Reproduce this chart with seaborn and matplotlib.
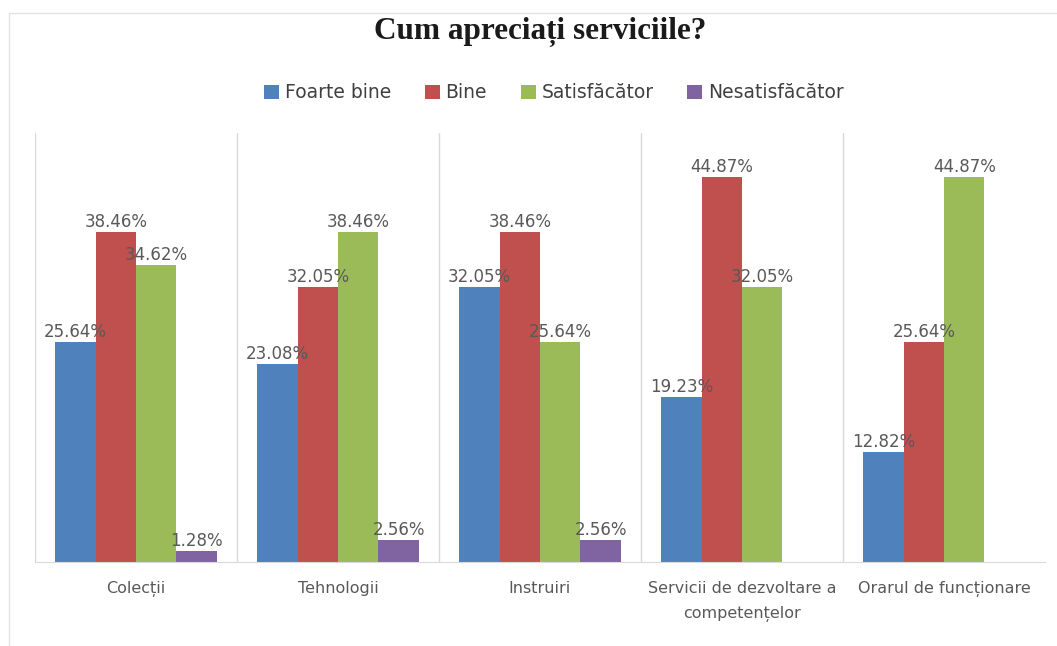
import numpy as np
import pandas as pd
import matplotlib
matplotlib.use("Agg")
import matplotlib.pyplot as plt
from matplotlib.lines import Line2D
import seaborn as sns

# date
categorii = ["Colecții", "Tehnologii", "Instruiri",
             "Servicii de dezvoltare a\ncompetențelor", "Orarul de funcționare"]
nivele = ["Foarte bine", "Bine", "Satisfăcător", "Nesatisfăcător"]
foarte_bine = [25.64, 23.08, 32.05, 19.23, 12.82]
bine = [38.46, 32.05, 38.46, 44.87, 25.64]
satisfacator = [34.62, 38.46, 25.64, 32.05, 44.87]
nesatisfacator = [1.28, 2.56, 2.56, np.nan, np.nan]
culori = ["#4F81BD", "#C0504D", "#9BBB59", "#8064A2"]

rows = []
for nivel, vals in zip(nivele, [foarte_bine, bine, satisfacator, nesatisfacator]):
    for cat, v in zip(categorii, vals):
        rows.append({"Categorie": cat, "Nivel": nivel, "Procent": v})
df = pd.DataFrame(rows)

sns.set_style("white")
plt.rcParams["font.family"] = ["DejaVu Sans"]

fig = plt.figure(figsize=(10.57, 6.46), dpi=100)
ax = fig.add_axes([35 / 1057, 84 / 646, 1010 / 1057, 429 / 646])

sns.barplot(data=df, x="Categorie", y="Procent", hue="Nivel",
            order=categorii, hue_order=nivele, palette=culori,
            width=0.8, saturation=1, errorbar=None, linewidth=0, ax=ax)

for cont in ax.containers:
    ax.bar_label(cont, fmt="%.2f%%", padding=1, fontsize=12, color="#595959")

ax.set_ylim(0, 50)
ax.set_xlim(-0.5, 4.5)
for xs in np.arange(-0.5, 4.0, 1.0):
    ax.axvline(xs, color="#d9d9d9", lw=1, zorder=0)

ax.set_yticks([])
ax.set_xlabel("")
ax.set_ylabel("")
ax.tick_params(axis="x", length=0, pad=14, labelsize=11.5, labelcolor="#595959")
for lbl in ax.get_xticklabels():
    lbl.set_linespacing(1.8)
for s in ["left", "top", "right"]:
    ax.spines[s].set_visible(False)
ax.spines["bottom"].set_color("#d9d9d9")

handles, labels = ax.get_legend_handles_labels()
ax.get_legend().remove()
fig.legend(handles, labels, loc="center", bbox_to_anchor=(0.524, 1 - 93 / 646),
           ncol=4, frameon=False, fontsize=13.5, handlelength=0.8, handleheight=0.8,
           handletextpad=0.3, columnspacing=1.8, labelcolor="#404040")

fig.text(0.511, 1 - 32 / 646, "Cum apreciați serviciile?", ha="center", va="center",
         fontsize=22.5, fontweight="bold", family="Liberation Serif", color="#1a1a1a")

# chenarul exterior
fig.add_artist(Line2D([9 / 1057, 1], [1 - 13 / 646, 1 - 13 / 646],
                      transform=fig.transFigure, color="#e3e3e3", lw=1))
fig.add_artist(Line2D([9 / 1057, 9 / 1057], [0, 1 - 13 / 646],
                      transform=fig.transFigure, color="#e3e3e3", lw=1))

fig.savefig("out.png", dpi=100)
